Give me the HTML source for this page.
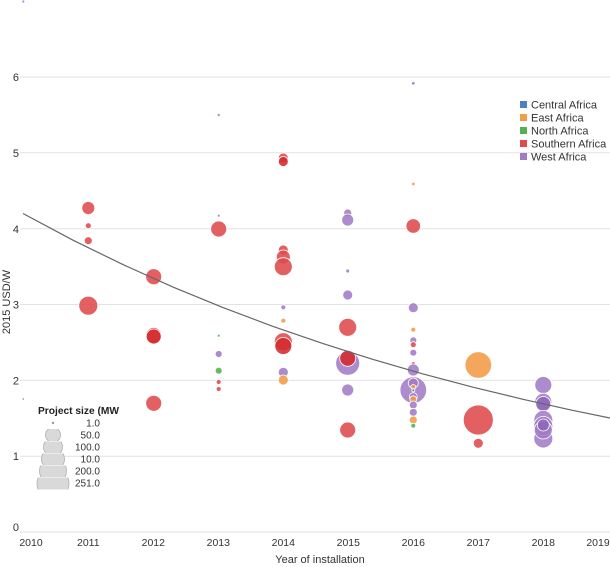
<!DOCTYPE html>
<html><head><meta charset="utf-8"><style>
html,body{margin:0;padding:0;background:#fff;}
svg{display:block;font-family:"Liberation Sans",sans-serif;}
</style></head><body>
<svg width="610" height="567" viewBox="0 0 610 567" xmlns="http://www.w3.org/2000/svg">
<defs>
<clipPath id="b1"><rect x="30" y="429" width="50" height="12"/></clipPath>
<clipPath id="b2"><rect x="30" y="441.5" width="50" height="11.5"/></clipPath>
<clipPath id="b3"><rect x="30" y="453.5" width="50" height="11.5"/></clipPath>
<clipPath id="b4"><rect x="30" y="465.5" width="50" height="11.5"/></clipPath>
<clipPath id="b5"><rect x="30" y="477.5" width="50" height="12"/></clipPath>
</defs>
<!-- gridlines -->
<g stroke="#e2e2e2" stroke-width="1">
<line x1="20" y1="77" x2="610" y2="77"/>
<line x1="20" y1="152.8" x2="610" y2="152.8"/>
<line x1="20" y1="228.7" x2="610" y2="228.7"/>
<line x1="20" y1="304.5" x2="610" y2="304.5"/>
<line x1="20" y1="380.3" x2="610" y2="380.3"/>
<line x1="20" y1="456.2" x2="610" y2="456.2"/>
<line x1="20" y1="532" x2="610" y2="532"/>
</g>
<!-- y labels -->
<g font-size="11" fill="#333" text-anchor="end">
<text x="19" y="81">6</text>
<text x="19" y="157">5</text>
<text x="19" y="233">4</text>
<text x="19" y="308.5">3</text>
<text x="19" y="384.5">2</text>
<text x="19" y="460">1</text>
<text x="19" y="531">0</text>
</g>
<text transform="translate(10,302) rotate(-90)" font-size="11" fill="#333" text-anchor="middle">2015 USD/W</text>
<!-- x labels -->
<g font-size="10.5" fill="#333" text-anchor="middle">
<text x="31" y="546">2010</text>
<text x="88.3" y="546">2011</text>
<text x="153.3" y="546">2012</text>
<text x="218.3" y="546">2013</text>
<text x="283.3" y="546">2014</text>
<text x="348.3" y="546">2015</text>
<text x="413.3" y="546">2016</text>
<text x="478.3" y="546">2017</text>
<text x="543.3" y="546">2018</text>
<text x="598" y="546">2019</text>
</g>
<text x="320" y="563" font-size="11" fill="#333" text-anchor="middle">Year of installation</text>

<!-- dots -->
<g stroke="#fff" stroke-width="0.8" fill-opacity="0.88">
<!-- 2010 -->
<circle cx="23.3" cy="1.5" r="1.5" fill="#a07cc5"/>
<circle cx="23.3" cy="399" r="1.2" fill="#4a7fc9"/>
<!-- 2011 -->
<circle cx="88.3" cy="208" r="6.5" fill="#df4a4c"/>
<circle cx="88.3" cy="225.7" r="3" fill="#df4a4c"/>
<circle cx="88.3" cy="240.7" r="4" fill="#df4a4c"/>
<circle cx="88.3" cy="305.7" r="9.5" fill="#df4a4c"/>
<!-- 2012 -->
<circle cx="153.7" cy="276.7" r="8" fill="#df4a4c"/>
<circle cx="153.7" cy="335.5" r="8" fill="#df4a4c"/>
<circle cx="153.7" cy="336.5" r="7.5" fill="#d42a2e"/>
<circle cx="153.7" cy="403.3" r="8" fill="#df4a4c"/>
<!-- 2013 -->
<circle cx="218.7" cy="115" r="1.6" fill="#a07cc5"/>
<circle cx="218.7" cy="215.7" r="1.5" fill="#a07cc5"/>
<circle cx="218.7" cy="229" r="8" fill="#df4a4c"/>
<circle cx="218.7" cy="335.7" r="1.5" fill="#55b04f"/>
<circle cx="218.7" cy="354" r="3.5" fill="#a07cc5"/>
<circle cx="218.7" cy="370.7" r="3.5" fill="#55b04f"/>
<circle cx="218.7" cy="382" r="2.5" fill="#df4a4c"/>
<circle cx="218.7" cy="389" r="2.5" fill="#df4a4c"/>
<!-- 2014 -->
<circle cx="283.3" cy="158" r="5" fill="#df4a4c"/>
<circle cx="283.3" cy="161.5" r="5" fill="#d42a2e"/>
<circle cx="283.3" cy="250" r="5" fill="#df4a4c"/>
<circle cx="283.3" cy="257" r="7" fill="#df4a4c"/>
<circle cx="283.3" cy="266.7" r="9" fill="#df4a4c"/>
<circle cx="283.3" cy="307.3" r="2.5" fill="#a07cc5"/>
<circle cx="283.3" cy="320.7" r="2.5" fill="#f39b45"/>
<circle cx="283.3" cy="341.7" r="9" fill="#df4a4c"/>
<circle cx="283.3" cy="346" r="8.5" fill="#d42a2e"/>
<circle cx="283.3" cy="372.3" r="5" fill="#a07cc5"/>
<circle cx="283.3" cy="380" r="5" fill="#f39b45"/>
<!-- 2015 -->
<circle cx="347.7" cy="213" r="4" fill="#a07cc5"/>
<circle cx="347.7" cy="220" r="6" fill="#a07cc5"/>
<circle cx="347.7" cy="271" r="2" fill="#a07cc5"/>
<circle cx="347.7" cy="295" r="5" fill="#a07cc5"/>
<circle cx="347.7" cy="327.3" r="9" fill="#df4a4c"/>
<circle cx="347.7" cy="363.3" r="12" fill="#a07cc5"/>
<circle cx="347.7" cy="358.3" r="8" fill="#d42a2e"/>
<circle cx="347.7" cy="390" r="6" fill="#a07cc5"/>
<circle cx="347.7" cy="430" r="8" fill="#df4a4c"/>
<!-- 2016 -->
<circle cx="413.3" cy="83.3" r="1.8" fill="#a07cc5"/>
<circle cx="413.3" cy="184" r="1.8" fill="#f39b45"/>
<circle cx="413.3" cy="226" r="7.3" fill="#df4a4c"/>
<circle cx="413.3" cy="307.7" r="5" fill="#a07cc5"/>
<circle cx="413.3" cy="329.7" r="2.5" fill="#f39b45"/>
<circle cx="413.3" cy="340.3" r="3.5" fill="#a07cc5"/>
<circle cx="413.3" cy="344.7" r="3" fill="#df4a4c"/>
<circle cx="413.3" cy="352.7" r="3.5" fill="#a07cc5"/>
<circle cx="413.3" cy="363.7" r="2" fill="#df4a4c"/>
<circle cx="413.3" cy="370" r="6" fill="#a07cc5"/>
<circle cx="413.3" cy="390" r="13.3" fill="#a07cc5"/>
<circle cx="413.3" cy="383" r="5" fill="#a07cc5"/>
<circle cx="413.3" cy="387" r="2.5" fill="#f39b45"/>
<circle cx="413.3" cy="390.3" r="1.5" fill="#4a7fc9"/>
<circle cx="413.3" cy="396.7" r="4" fill="#a07cc5"/>
<circle cx="413.3" cy="399.3" r="3.5" fill="#f39b45"/>
<circle cx="413.3" cy="405" r="4" fill="#a07cc5"/>
<circle cx="413.3" cy="412.3" r="4" fill="#a07cc5"/>
<circle cx="413.3" cy="420" r="4" fill="#f39b45"/>
<circle cx="413.3" cy="425.7" r="2.5" fill="#55b04f"/>
<!-- 2017 -->
<circle cx="478.3" cy="365" r="13.3" fill="#f39b45"/>
<circle cx="478.3" cy="420" r="15" fill="#df4a4c"/>
<circle cx="478.3" cy="443.3" r="5" fill="#df4a4c"/>
<!-- 2018 -->
<circle cx="543.3" cy="385" r="8.5" fill="#a07cc5"/>
<circle cx="543.3" cy="401.7" r="8.5" fill="#a07cc5"/>
<circle cx="543.3" cy="404" r="7.5" fill="#9066ba"/>
<circle cx="543.3" cy="438.5" r="9.5" fill="#a07cc5"/>
<circle cx="543.3" cy="420" r="9.5" fill="#a07cc5"/>
<circle cx="543.3" cy="426" r="9.5" fill="#a07cc5"/>
<circle cx="543.3" cy="430" r="9" fill="#a07cc5"/>
<circle cx="543.3" cy="425" r="6" fill="#8f66b8"/>
</g>

<!-- trend line -->
<path d="M23,213.5 L73,240.2 L123,264.6 L173,287.1 L223,307.6 L273,326.4 L323,343.6 L373,359.4 L423,373.9 L473,387.2 L523,399.3 L573,410.4 L610,418" fill="none" stroke="#666" stroke-width="1.2"/>

<!-- region legend -->
<g font-size="11" fill="#333">
<rect x="520" y="101" width="7" height="7" fill="#4a7fc9"/>
<text x="531" y="108.5">Central Africa</text>
<rect x="520" y="114" width="7" height="7" fill="#f39b45"/>
<text x="531" y="121.5">East Africa</text>
<rect x="520" y="127" width="7" height="7" fill="#55b04f"/>
<text x="531" y="134.5">North Africa</text>
<rect x="520" y="140" width="7" height="7" fill="#df4a4c"/>
<text x="531" y="147.5">Southern Africa</text>
<rect x="520" y="153" width="7" height="7" fill="#a07cc5"/>
<text x="531" y="160.5">West Africa</text>
</g>

<!-- size legend -->
<text x="38" y="414" font-size="10.2" font-weight="bold" fill="#222">Project size (MW</text>
<circle cx="53" cy="423" r="1.2" fill="#999"/>
<g fill="#d9d9d9" stroke="#b0b0b0" stroke-width="0.8">
<circle cx="53" cy="435" r="7.5" clip-path="url(#b1)"/>
<circle cx="53" cy="447" r="9.5" clip-path="url(#b2)"/>
<circle cx="53" cy="459" r="11.5" clip-path="url(#b3)"/>
<circle cx="53" cy="471" r="13.5" clip-path="url(#b4)"/>
<circle cx="53" cy="483.5" r="16" clip-path="url(#b5)"/>
</g>
<g font-size="10" fill="#333" text-anchor="end">
<text x="100" y="426.5">1.0</text>
<text x="100" y="438.5">50.0</text>
<text x="100" y="450.5">100.0</text>
<text x="100" y="462.5">10.0</text>
<text x="100" y="474.5">200.0</text>
<text x="100" y="486.5">251.0</text>
</g>
</svg>
</body></html>
